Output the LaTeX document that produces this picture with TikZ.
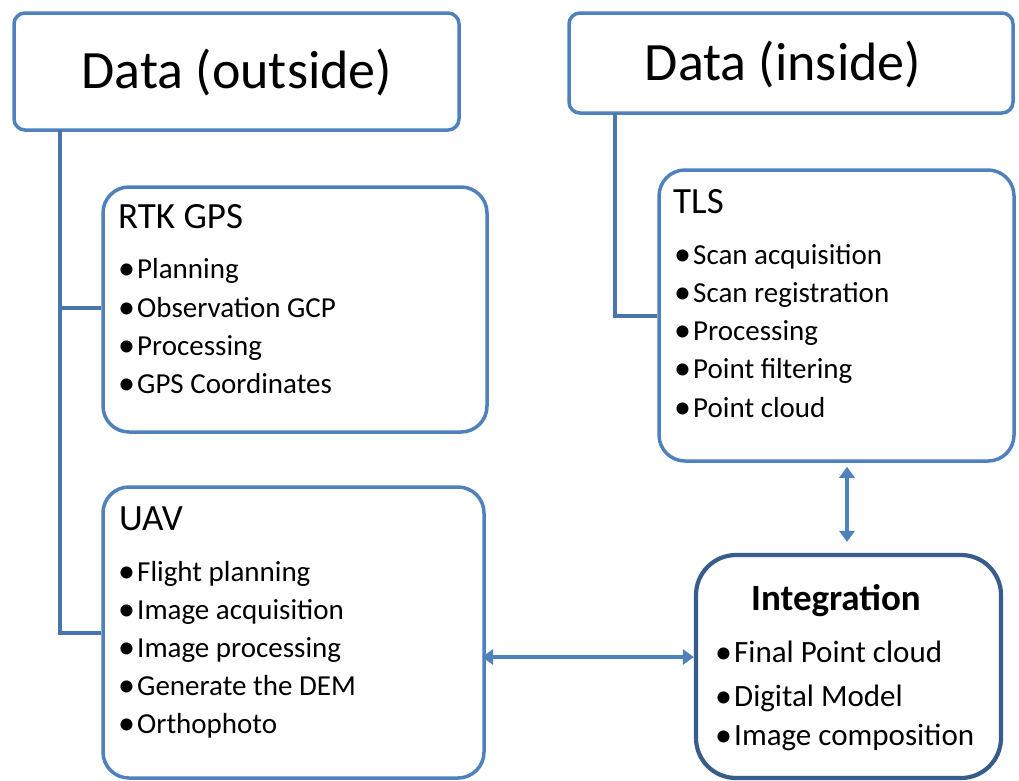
\documentclass[tikz,border=0pt]{standalone}
\usepackage{fontspec}
\setmainfont{Carlito}
\usetikzlibrary{arrows.meta}
\definecolor{boxblue}{HTML}{4F81BD}
\definecolor{darkblue}{HTML}{385D8A}
\definecolor{linkblue}{HTML}{4A74AC}
\tikzset{
  box/.style={draw=boxblue, line width=3.5pt, fill=white, inner sep=0pt},
  databox/.style={box, rounded corners=11pt},
  subbox/.style={box, rounded corners=26pt},
  intbox/.style={draw=darkblue, line width=4.2pt, fill=white, inner sep=0pt, rounded corners=40pt},
  bigtitle/.style={font=\fontsize{54}{60}\selectfont, inner sep=0pt},
  subtitle/.style={font=\fontsize{37}{42}\selectfont, inner sep=0pt, anchor=base west},
  item/.style={font=\fontsize{29}{34}\selectfont, inner sep=0pt, anchor=base west},
  bigitem/.style={font=\fontsize{31}{36}\selectfont, inner sep=0pt, anchor=base west},
  conn/.style={draw=linkblue, line width=3.5pt},
  dblarrow/.style={draw=boxblue, line width=3.2pt, {Triangle[width=15pt,length=11pt]}-{Triangle[width=15pt,length=11pt]}}
}
\newcommand{\bul}[1]{\makebox[19pt][l]{\raisebox{-1.2pt}{\fontsize{34}{34}\selectfont •}}#1}
\begin{document}
\begin{tikzpicture}[x=1pt,y=-1pt]
\useasboundingbox (0,0) rectangle (1019,780);
\fill[white] (0,0) rectangle (1019,780);

% connectors (behind boxes)
\coordinate (lt) at (60,130);
\coordinate (lm) at (60,308);
\coordinate (lb) at (60,633);
\coordinate (rt) at (615,113);
\coordinate (rb) at (615,316);

% boxes
\node[databox, minimum width=445pt, minimum height=117pt] (out) at (236.5,71.5) {};
\node[databox, minimum width=444pt, minimum height=100pt] (ins) at (791,63) {};
\node[subbox, minimum width=384pt, minimum height=245pt] (rtk) at (295,309.5) {};
\node[subbox, minimum width=381pt, minimum height=291pt] (uav) at (293.5,632.5) {};
\node[subbox, minimum width=355pt, minimum height=291pt] (tls) at (836.5,315.5) {};
\node[intbox, minimum width=305pt, minimum height=223pt] (int) at (848.5,666.5) {};

\draw[conn] (lt) -- (lb) -- (lb -| uav.west);
\draw[conn] (lm) -- (lm -| rtk.west);
\draw[conn] (rt) -- (rb) -- (rb -| tls.west);

% titles
\node[bigtitle] (outt) at (237,72) {Data (outside)};
\node[bigtitle] (inst) at (783,64) {Data (inside)};

% RTK GPS
\node[subtitle] (rtkt) at (118,228) {RTK GPS};
\node[item] (r1) at (118,278) {\bul{Planning}};
\node[item] (r2) at (118,317) {\bul{Observation GCP}};
\node[item] (r3) at (118,355) {\bul{Processing}};
\node[item] (r4) at (118,393) {\bul{GPS Coordinates}};

% UAV
\node[subtitle] (uavt) at (119,530) {UAV};
\node[item] (u1) at (118,581) {\bul{Flight planning}};
\node[item] (u2) at (118,619) {\bul{Image acquisition}};
\node[item] (u3) at (118,657) {\bul{Image processing}};
\node[item] (u4) at (118,695) {\bul{Generate the DEM}};
\node[item] (u5) at (118,733) {\bul{Orthophoto}};

% TLS
\node[subtitle] (tlst) at (673,213) {TLS};
\node[item] (t1) at (674,264) {\bul{Scan acquisition}};
\node[item] (t2) at (674,302) {\bul{Scan registration}};
\node[item] (t3) at (674,340) {\bul{Processing}};
\node[item] (t4) at (674,378) {\bul{Point filtering}};
\node[item] (t5) at (674,417) {\bul{Point cloud}};

% Integration
\node[font=\bfseries\fontsize{37}{42}\selectfont, inner sep=0pt, anchor=base] (intt) at (836,610) {Integration};
\node[bigitem] (i1) at (715,662) {\bul{Final Point cloud}};
\node[bigitem] (i2) at (715,706) {\bul{Digital Model}};
\node[bigitem] (i3) at (715,745) {\bul{Image composition}};

% arrows
\coordinate (ha) at (482,657);
\draw[dblarrow] (ha) -- (ha -| int.west);
\draw[dblarrow, shorten <=4pt, shorten >=11pt] ([xshift=-1.5pt]int.north |- tls.south) -- ([xshift=-1.5pt]int.north);
\end{tikzpicture}
\end{document}
